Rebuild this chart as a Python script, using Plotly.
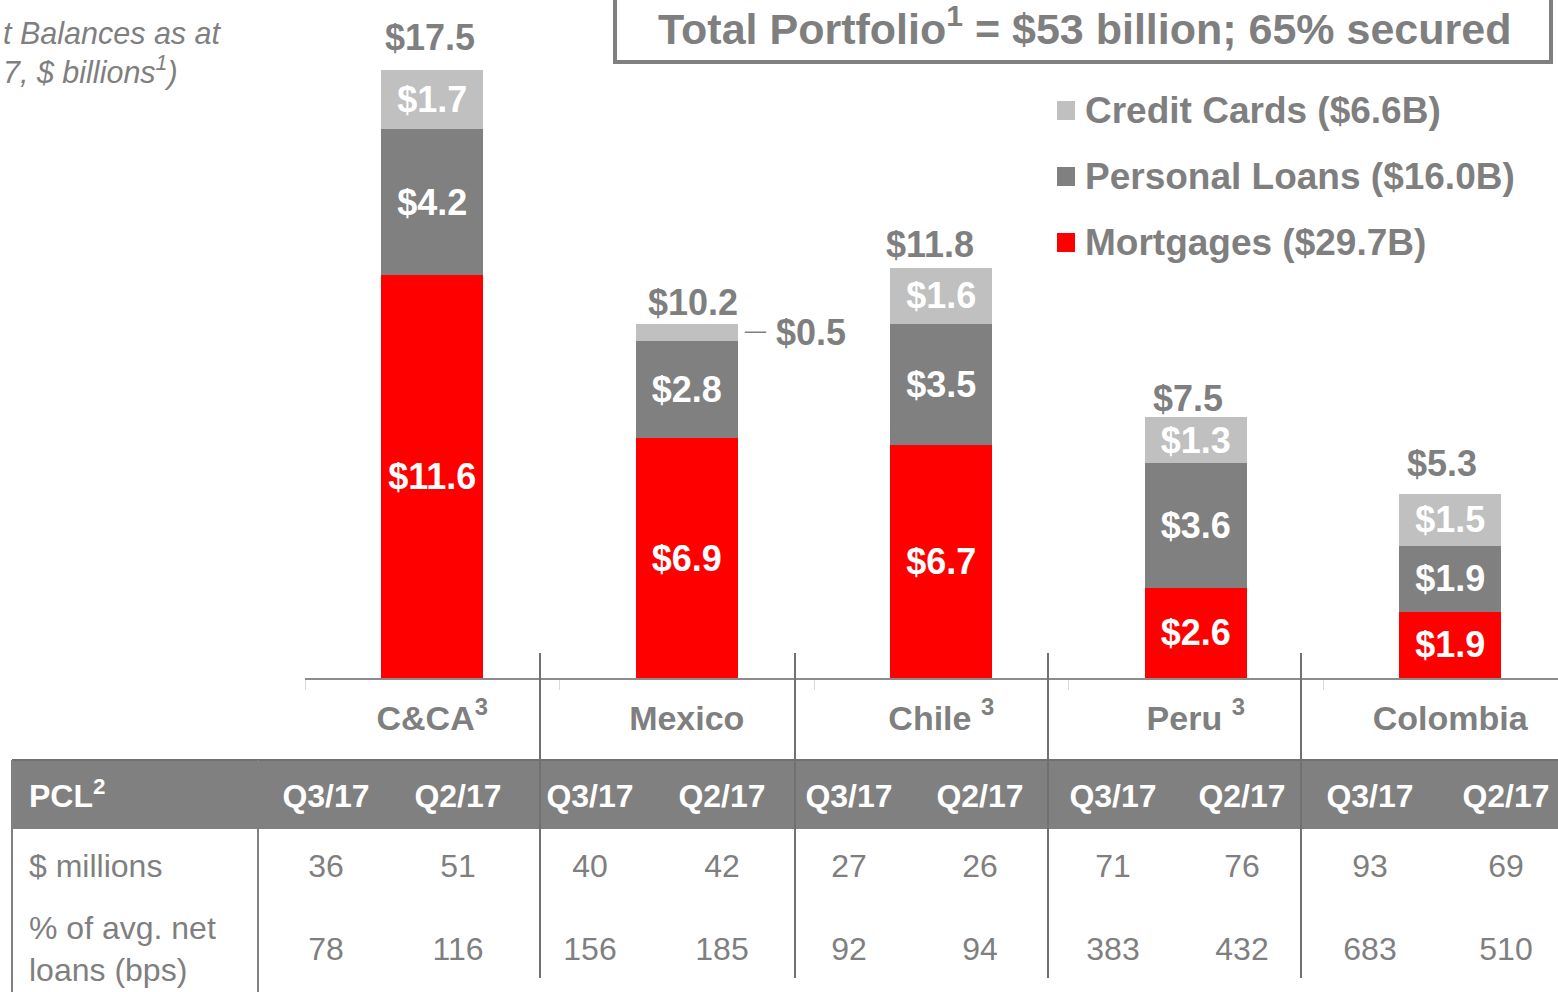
import plotly.graph_objects as go

# ---- data -------------------------------------------------------------
countries = ["C&CA", "Mexico", "Chile", "Peru", "Colombia"]
country_ticks = ["C&CA<sup>3</sup>", "Mexico", "Chile <sup>3</sup>", "Peru <sup>3</sup>", "Colombia"]

mortgages = [11.6, 6.9, 6.7, 2.6, 1.9]
personal_loans = [4.2, 2.8, 3.5, 3.6, 1.9]
credit_cards = [1.7, 0.5, 1.6, 1.3, 1.5]

quarters = ["Q3/17", "Q2/17"]
pcl_millions = [36, 51, 40, 42, 27, 26, 71, 76, 93, 69]
pcl_bps = [78, 116, 156, 185, 92, 94, 383, 432, 683, 510]

title_text = "Total Portfolio<sup>1</sup> = $53 billion; 65% secured"
subtitle_lines = ["t Balances as at", "7, $ billions<sup>1</sup>)"]

# ---- styling ----------------------------------------------------------
W, H = 1558, 992
FONT = "Liberation Sans, Arial, sans-serif"
GREY_TXT = "#7F7F7F"
RED = "#FF0000"
DARK = "#808080"
LIGHT = "#C0C0C0"

PX_PER_UNIT = 34.74          # vertical scale of the bar chart
BASE_PX = 678                # baseline of the bars (pixels from top)
X0_PX = 305                  # left edge of the category axis
CAT_PX = 254.5               # width of one category

# offsets (px) of the total labels relative to the top centre of each bar
TOTAL_DX = [-2, 6, -11, -8, -8]
TOTAL_DY = [33, 21, 24, 19, 30]

# table layout (pixel grid of the overlay axes)
COL_X = [326, 458, 590, 722, 849, 980, 1113, 1242, 1370, 1506]
GROUP_SEP_X = [540, 795, 1048, 1301]
HEADER_TOP, HEADER_BOT = 760, 829
ROW_Y = [799, 869, 952]
LABEL_X = 29

totals = [round(a + b + c, 1) for a, b, c in zip(mortgages, personal_loans, credit_cards)]


def money(v):
    return f"${v:.1f}"


def inside_labels(vals, min_height=1.0):
    return [money(v) if v >= min_height else "" for v in vals]


fig = go.Figure()

series = [
    ("Mortgages", mortgages, RED),
    ("Personal Loans", personal_loans, DARK),
    ("Credit Cards", credit_cards, LIGHT),
]
for name, vals, color in series:
    fig.add_trace(go.Bar(
        x=countries, y=vals, name=name, width=0.4,
        marker=dict(color=color, line=dict(width=0)),
        text=inside_labels(vals), textposition="inside",
        insidetextanchor="middle", textangle=0, constraintext="none",
        textfont=dict(family=FONT, size=36, color="white", weight="bold"),
        showlegend=False, hoverinfo="skip", cliponaxis=False,
    ))

# totals above the bars
for c, t, dx, dy in zip(countries, totals, TOTAL_DX, TOTAL_DY):
    fig.add_annotation(x=c, y=t, xref="x", yref="y", text=money(t),
                       showarrow=False, yanchor="middle", xshift=dx, yshift=dy,
                       font=dict(family=FONT, size=36, color=GREY_TXT, weight="bold"))

# small segments get an outside label with a leader line
cum_below = [m + p for m, p in zip(mortgages, personal_loans)]
for c, v, b in zip(countries, credit_cards, cum_below):
    if v < 1.0:
        fig.add_annotation(x=c, y=b + v / 2, xref="x", yref="y", text=money(v),
                           showarrow=True, arrowhead=0, arrowwidth=1.5,
                           arrowcolor=GREY_TXT, xshift=58, ax=66, ay=0,
                           startstandoff=8,
                           font=dict(family=FONT, size=36, color=GREY_TXT, weight="bold"))

# ---- table (overlay axes in pixel units) -------------------------------
text_kw = dict(xaxis="x2", yaxis="y2", mode="text", hoverinfo="skip",
               showlegend=False, cliponaxis=False)

fig.add_trace(go.Scatter(x=[LABEL_X], y=[ROW_Y[0]], text=["PCL<sup>2</sup>"],
                         textposition="middle right",
                         textfont=dict(family=FONT, size=32, color="white", weight="bold"),
                         **text_kw))
fig.add_trace(go.Scatter(x=COL_X, y=[ROW_Y[0]] * len(COL_X),
                         text=quarters * len(countries), textposition="middle center",
                         textfont=dict(family=FONT, size=32, color="white", weight="bold"),
                         **text_kw))
fig.add_trace(go.Scatter(x=[LABEL_X, LABEL_X], y=ROW_Y[1:],
                         text=["$ millions", "% of avg. net<br>loans (bps)"],
                         textposition="middle right",
                         textfont=dict(family=FONT, size=32, color=GREY_TXT),
                         **text_kw))
fig.add_trace(go.Scatter(x=COL_X, y=[ROW_Y[1]] * len(COL_X),
                         text=[str(v) for v in pcl_millions], textposition="middle center",
                         textfont=dict(family=FONT, size=32, color=GREY_TXT),
                         **text_kw))
fig.add_trace(go.Scatter(x=COL_X, y=[ROW_Y[2]] * len(COL_X),
                         text=[str(v) for v in pcl_bps], textposition="middle center",
                         textfont=dict(family=FONT, size=32, color=GREY_TXT),
                         **text_kw))

shapes = [
    # header band
    dict(type="rect", xref="x2", yref="y2", x0=12, x1=W + 5, y0=HEADER_TOP, y1=HEADER_BOT,
         fillcolor=DARK, line=dict(width=0), layer="below"),
    dict(type="line", xref="x2", yref="y2", x0=12, x1=W + 5, y0=HEADER_TOP, y1=HEADER_TOP,
         line=dict(color="#707070", width=2)),
    # label column borders
    dict(type="line", xref="x2", yref="y2", x0=12, x1=12, y0=HEADER_TOP, y1=H + 5,
         line=dict(color=DARK, width=2)),
    dict(type="line", xref="x2", yref="y2", x0=258, x1=258, y0=HEADER_TOP, y1=H + 5,
         line=dict(color=DARK, width=2)),
    # title box
    dict(type="rect", xref="x2", yref="y2", x0=615, x1=1551, y0=-10, y1=62,
         line=dict(color=DARK, width=4), fillcolor="rgba(0,0,0,0)"),
]
for sx in GROUP_SEP_X:
    shapes.append(dict(type="line", xref="x2", yref="y2", x0=sx, x1=sx, y0=653, y1=978,
                       line=dict(color="#707070", width=2)))

# legend squares and labels
legend_rows = [("Credit Cards", credit_cards, LIGHT, 110),
               ("Personal Loans", personal_loans, DARK, 176),
               ("Mortgages", mortgages, RED, 242)]
for name, vals, color, ly in legend_rows:
    shapes.append(dict(type="rect", xref="x2", yref="y2", x0=1057, x1=1075,
                       y0=ly - 9, y1=ly + 10, fillcolor=color, line=dict(width=0)))
    fig.add_annotation(x=1083, y=ly, xref="x2", yref="y2", xanchor="left", yanchor="middle",
                       text=f"{name} (${sum(vals):.1f}B)", showarrow=False,
                       font=dict(family=FONT, size=37, color=GREY_TXT, weight="bold"))

fig.add_annotation(x=1084, y=26, xref="x2", yref="y2", text=title_text, showarrow=False,
                   xanchor="center", yanchor="middle",
                   font=dict(family=FONT, size=43, color=GREY_TXT, weight="bold"))
for txt, right, ty in zip(subtitle_lines, [224, 180], [33, 70]):
    fig.add_annotation(x=right, y=ty, xref="x2", yref="y2", text=txt, showarrow=False,
                       xanchor="right", yanchor="middle",
                       font=dict(family=FONT, size=30.5, color=GREY_TXT, style="italic"))

y_top = BASE_PX / PX_PER_UNIT
x_right = -0.5 + (W - X0_PX) / CAT_PX

fig.update_layout(
    width=W, height=H, margin=dict(l=0, r=0, t=0, b=0),
    paper_bgcolor="white", plot_bgcolor="rgba(0,0,0,0)",
    barmode="stack", bargap=0.6, shapes=shapes,
    xaxis=dict(domain=[X0_PX / W, 1], type="category", range=[-0.5, x_right],
               tickmode="array", tickvals=countries, ticktext=country_ticks,
               tickson="boundaries", ticks="outside", ticklen=10, tickwidth=1,
               tickcolor="#D9D9D9", showline=True, linecolor="#8C8C8C", linewidth=1.5,
               showgrid=False, zeroline=False, ticklabelstandoff=9,
               tickfont=dict(family=FONT, size=34, color=GREY_TXT, weight="bold"),
               fixedrange=True),
    yaxis=dict(domain=[(H - BASE_PX) / H, 1], range=[0, y_top], visible=False,
               fixedrange=True),
    xaxis2=dict(domain=[0, 1], range=[0, W], visible=False, anchor="y2", fixedrange=True),
    yaxis2=dict(domain=[0, 1], range=[H, 0], visible=False, anchor="x2", fixedrange=True),
)

fig.write_html("out.html")
